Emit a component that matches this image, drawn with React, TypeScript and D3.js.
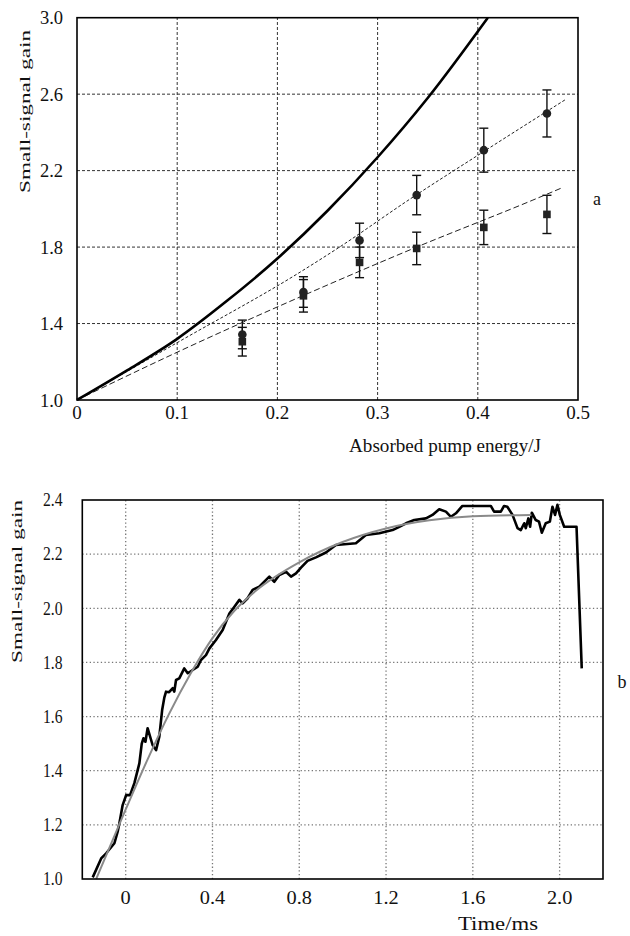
import React, { useRef, useEffect } from "react";
import * as d3 from "d3";

// ---- panel a data ----
const energy = [0.165, 0.226, 0.282, 0.339, 0.406, 0.469];
const circleGain = [1.343, 1.565, 1.835, 2.072, 2.307, 2.499];
const circleErr = [0.075, 0.08, 0.09, 0.103, 0.115, 0.123];
const squareGain = [1.305, 1.545, 1.72, 1.793, 1.903, 1.971];
const squareErr = [0.075, 0.085, 0.08, 0.085, 0.09, 0.1];

const theoryE = [0, 0.05, 0.1, 0.15, 0.2, 0.25, 0.3, 0.35, 0.41];
const theoryG = [1.0, 1.155, 1.32, 1.52, 1.74, 1.99, 2.27, 2.58, 3.0];

const circleFitE = [0, 0.1, 0.223, 0.262, 0.332, 0.4, 0.487];
const circleFitG = [1.0, 1.3, 1.67, 1.8, 2.05, 2.28, 2.57];
const squareFitE = [0, 0.1, 0.223, 0.339, 0.455, 0.484];
const squareFitG = [1.0, 1.25, 1.54, 1.8, 2.046, 2.11];

const topXTicks = [0, 0.1, 0.2, 0.3, 0.4, 0.5];
const topXLabels = ["0", "0.1", "0.2", "0.3", "0.4", "0.5"];
const topYTicks = [1.0, 1.4, 1.8, 2.2, 2.6, 3.0];

// ---- panel b data ----
const timeMs = [
    -0.152, -0.113, -0.09, -0.052, -0.037, -0.029, -0.014, 0.002, 0.02, 0.04,
    0.063, 0.074, 0.082, 0.091, 0.101, 0.124, 0.14, 0.155, 0.168, 0.178,
    0.186, 0.2, 0.217, 0.224, 0.232, 0.247, 0.27, 0.286, 0.309, 0.332,
    0.347, 0.37, 0.386, 0.416, 0.447, 0.478, 0.501, 0.524, 0.539, 0.562,
    0.585, 0.616, 0.647, 0.662, 0.685, 0.708, 0.739, 0.762, 0.785, 0.808,
    0.838, 0.877, 0.923, 0.969, 1.061, 1.107, 1.169, 1.23, 1.261, 1.292,
    1.33, 1.384, 1.414, 1.445, 1.476, 1.499, 1.522, 1.552, 1.683, 1.698,
    1.729, 1.744, 1.759, 1.783, 1.806, 1.821, 1.837, 1.844, 1.856, 1.864,
    1.872, 1.89, 1.905, 1.918, 1.936, 1.955, 1.967, 1.979, 1.99, 2.001,
    2.021, 2.078, 2.102,
];
const measuredGain = [
    1.006, 1.076, 1.095, 1.132, 1.175, 1.206, 1.273, 1.31, 1.31, 1.354,
    1.427, 1.5, 1.52, 1.507, 1.557, 1.495, 1.476, 1.526, 1.624, 1.67,
    1.692, 1.69, 1.705, 1.692, 1.735, 1.741, 1.778, 1.76, 1.772, 1.784,
    1.809, 1.827, 1.852, 1.883, 1.92, 1.981, 2.006, 2.031, 2.018, 2.037,
    2.068, 2.08, 2.105, 2.117, 2.098, 2.123, 2.135, 2.117, 2.129, 2.15,
    2.175, 2.188, 2.206, 2.234, 2.24, 2.271, 2.277, 2.289, 2.301, 2.314,
    2.326, 2.332, 2.345, 2.366, 2.357, 2.338, 2.351, 2.378, 2.378, 2.357,
    2.357, 2.378, 2.375, 2.345, 2.296, 2.289, 2.314, 2.296, 2.332, 2.301,
    2.353, 2.326, 2.32, 2.279, 2.314, 2.32, 2.375, 2.345, 2.382, 2.345,
    2.301, 2.301, 1.778,
];
const fitT = [-0.136, 0, 0.1, 0.2, 0.3, 0.4, 0.5, 0.6, 0.8, 1.0, 1.2, 1.4, 1.6, 1.87];
const fitG = [1.0, 1.257, 1.44, 1.61, 1.76, 1.89, 1.99, 2.065, 2.17, 2.245, 2.295, 2.325, 2.34, 2.345];

const botXTicks = [0, 0.4, 0.8, 1.2, 1.6, 2.0];
const botXLabels = ["0", "0.4", "0.8", "1.2", "1.6", "2.0"];
const botYTicks = [1.0, 1.2, 1.4, 1.6, 1.8, 2.0, 2.2, 2.4];

const FONT = "'Liberation Serif', 'Times New Roman', serif";

function App() {
    const ref = useRef<SVGSVGElement>(null);

    useEffect(() => {
        draw();
    }, []);

    const draw = () => {
        const svg = d3.select(ref.current);
        svg.selectAll("*").remove();

        const label = (
            g: any,
            text: string,
            x: number,
            y: number,
            size: number,
            anchor: string,
            sx = 1
        ) =>
            g
                .append("text")
                .attr("transform", `translate(${x},${y}) scale(${sx},1)`)
                .attr("text-anchor", anchor)
                .attr("font-family", FONT)
                .attr("font-size", size)
                .attr("fill", "#111")
                .text(text);

        // ================= panel a =================
        const xa = d3.scaleLinear().domain([0, 0.5]).range([77, 578]);
        const ya = d3.scaleLinear().domain([1, 3]).range([400, 17.7]);
        const ga = svg.append("g");

        // grid
        ga.selectAll(".vgrid")
            .data(topXTicks.slice(1, -1))
            .enter()
            .append("line")
            .attr("x1", (d) => xa(d))
            .attr("x2", (d) => xa(d))
            .attr("y1", ya(1))
            .attr("y2", ya(3))
            .attr("stroke", "#333")
            .attr("stroke-width", 1)
            .attr("stroke-dasharray", "3,2");
        ga.selectAll(".hgrid")
            .data(topYTicks.slice(1, -1))
            .enter()
            .append("line")
            .attr("x1", xa(0))
            .attr("x2", xa(0.5))
            .attr("y1", (d) => ya(d))
            .attr("y2", (d) => ya(d))
            .attr("stroke", "#333")
            .attr("stroke-width", 1)
            .attr("stroke-dasharray", "3,2");

        // fit lines
        const lineA = d3
            .line<number>()
            .x((d) => xa(d[0]))
            .y((d) => ya(d[1]))
            .curve(d3.curveMonotoneX);
        ga.append("path")
            .attr("d", lineA(circleFitE.map((e, i) => [e, circleFitG[i]]) as any))
            .attr("fill", "none")
            .attr("stroke", "#222")
            .attr("stroke-width", 1)
            .attr("stroke-dasharray", "3,2");
        ga.append("path")
            .attr("d", lineA(squareFitE.map((e, i) => [e, squareFitG[i]]) as any))
            .attr("fill", "none")
            .attr("stroke", "#222")
            .attr("stroke-width", 1)
            .attr("stroke-dasharray", "6,3");
        ga.append("path")
            .attr("d", lineA(theoryE.map((e, i) => [e, theoryG[i]]) as any))
            .attr("fill", "none")
            .attr("stroke", "#000")
            .attr("stroke-width", 2.6);

        // error bars
        const errBars = (vals: number[], errs: number[]) => {
            energy.forEach((e, i) => {
                const x = xa(e);
                const y0 = ya(vals[i] - errs[i]);
                const y1 = ya(vals[i] + errs[i]);
                ga.append("line").attr("x1", x).attr("x2", x).attr("y1", y0).attr("y2", y1)
                    .attr("stroke", "#111").attr("stroke-width", 1.4);
                [y0, y1].forEach((y) => {
                    ga.append("line").attr("x1", x - 4.5).attr("x2", x + 4.5).attr("y1", y).attr("y2", y)
                        .attr("stroke", "#111").attr("stroke-width", 1.4);
                });
            });
        };
        errBars(squareGain, squareErr);
        errBars(circleGain, circleErr);

        ga.selectAll(".sq")
            .data(energy)
            .enter()
            .append("rect")
            .attr("x", (d) => xa(d) - 3.8)
            .attr("y", (d, i) => ya(squareGain[i]) - 3.8)
            .attr("width", 7.6)
            .attr("height", 7.6)
            .attr("fill", "#222");
        ga.selectAll(".ci")
            .data(energy)
            .enter()
            .append("circle")
            .attr("cx", (d) => xa(d))
            .attr("cy", (d, i) => ya(circleGain[i]))
            .attr("r", 4.3)
            .attr("fill", "#222");

        // frame
        ga.append("rect")
            .attr("x", xa(0))
            .attr("y", ya(3))
            .attr("width", xa(0.5) - xa(0))
            .attr("height", ya(1) - ya(3))
            .attr("fill", "none")
            .attr("stroke", "#000")
            .attr("stroke-width", 1.6);

        // labels
        topYTicks.forEach((t) => label(ga, t.toFixed(1), 63, ya(t) + 6.5, 18.5, "end"));
        topXTicks.forEach((t, i) => label(ga, topXLabels[i], xa(t), 418.5, 19, "middle"));
        label(ga, "Absorbed pump energy/J", 445, 452, 18.5, "middle")
            .attr("textLength", 192)
            .attr("lengthAdjust", "spacingAndGlyphs");
        ga.append("text")
            .attr("transform", `translate(30,111.5) rotate(-90)`)
            .attr("text-anchor", "middle")
            .attr("font-family", FONT)
            .attr("font-size", 15.5)
            .attr("fill", "#111")
            .attr("textLength", 163)
            .attr("lengthAdjust", "spacingAndGlyphs")
            .text("Small-signal gain");
        label(ga, "a", 597, 205, 18, "middle");

        // ================= panel b =================
        const xb = d3.scaleLinear().domain([-0.2, 2.2]).range([82.3, 603]);
        const yb = d3.scaleLinear().domain([1, 2.4]).range([879, 500]);
        const gb = svg.append("g");

        gb.selectAll(".vgrid")
            .data(botXTicks)
            .enter()
            .append("line")
            .attr("x1", (d) => xb(d))
            .attr("x2", (d) => xb(d))
            .attr("y1", yb(1))
            .attr("y2", yb(2.4))
            .attr("stroke", "#777")
            .attr("stroke-width", 1.3)
            .attr("stroke-dasharray", "1.3,2.4");
        gb.selectAll(".hgrid")
            .data(botYTicks.slice(1, -1))
            .enter()
            .append("line")
            .attr("x1", xb(-0.2))
            .attr("x2", xb(2.2))
            .attr("y1", (d) => yb(d))
            .attr("y2", (d) => yb(d))
            .attr("stroke", "#777")
            .attr("stroke-width", 1.3)
            .attr("stroke-dasharray", "1.3,2.4");

        const lineB = d3
            .line<number>()
            .x((d) => xb(d[0]))
            .y((d) => yb(d[1]));
        gb.append("path")
            .attr("d", lineB.curve(d3.curveLinear)(timeMs.map((t, i) => [t, measuredGain[i]]) as any))
            .attr("fill", "none")
            .attr("stroke", "#000")
            .attr("stroke-width", 2.6)
            .attr("stroke-linejoin", "round");
        gb.append("path")
            .attr("d", lineB.curve(d3.curveMonotoneX)(fitT.map((t, i) => [t, fitG[i]]) as any))
            .attr("fill", "none")
            .attr("stroke", "#8a8a8a")
            .attr("stroke-width", 2);

        gb.append("rect")
            .attr("x", xb(-0.2))
            .attr("y", yb(2.4))
            .attr("width", xb(2.2) - xb(-0.2))
            .attr("height", yb(1) - yb(2.4))
            .attr("fill", "none")
            .attr("stroke", "#000")
            .attr("stroke-width", 1.6);

        botYTicks.forEach((t) => label(gb, t.toFixed(1), 62.5, yb(t) + 6.3, 18, "end", 0.87));
        botXTicks.forEach((t, i) => label(gb, botXLabels[i], xb(t), 904, 18, "middle", 1.13));
        label(gb, "Time/ms", 498, 930, 18, "middle")
            .attr("textLength", 80)
            .attr("lengthAdjust", "spacingAndGlyphs");
        gb.append("text")
            .attr("transform", `translate(21.5,581.5) rotate(-90)`)
            .attr("text-anchor", "middle")
            .attr("font-family", FONT)
            .attr("font-size", 15.5)
            .attr("fill", "#111")
            .attr("textLength", 163)
            .attr("lengthAdjust", "spacingAndGlyphs")
            .text("Small-signal gain");
        label(gb, "b", 622, 688, 18, "middle");
    };

    return (
        <svg
            ref={ref}
            width={630}
            height={936}
            style={{ position: "absolute", left: 0, top: 0, background: "#fff" }}
        ></svg>
    );
}

export default App;
